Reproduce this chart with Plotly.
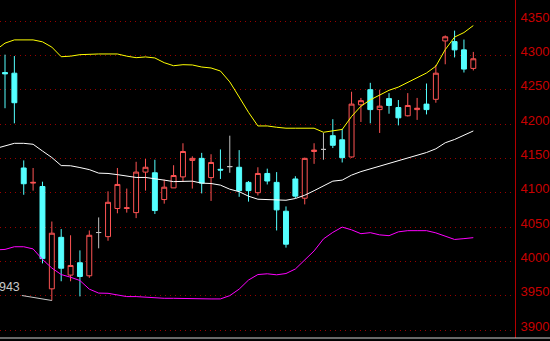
import plotly.graph_objects as go

# ---- data ----
idx = list(range(51))
open_ = [4275, 4274, 4136, 4114, 4109, 3960, 4035, 3980, 3998, 3979,
         4042, 4036, 4077, 4077, 4071, 4130, 4129, 4090, 4107, 4123,
         4147, 4150, 4122, 4134, 4138, 4137, 4115, 4100, 4128, 4115,
         4073, 4120, 4092, 4160, 4163, 4183, 4177, 4152, 4228, 4250,
         4221, 4237, 4224, 4212, 4221, 4229, 4236, 4321, 4320, 4308, 4281]
high = [4301, 4299, 4147, 4136, 4116, 4058, 4047, 4038, 4016, 4045,
        4064, 4102, 4136, 4106, 4145, 4149, 4148, 4119, 4140, 4172,
        4153, 4158, 4156, 4163, 4183, 4162, 4117, 4137, 4135, 4130,
        4080, 4124, 4151, 4172, 4187, 4207, 4193, 4247, 4238, 4260,
        4250, 4245, 4235, 4245, 4238, 4259, 4286, 4329, 4336, 4323, 4305]
low = [4223, 4201, 4097, 4103, 3997, 3943, 3971, 3971, 3949, 3976,
       4019, 4030, 4070, 4071, 4063, 4103, 4069, 4084, 4107, 4116,
       4106, 4099, 4088, 4120, 4129, 4094, 4087, 4096, 4112, 4045,
       4020, 4092, 4083, 4142, 4148, 4165, 4144, 4151, 4203, 4201,
       4187, 4215, 4198, 4211, 4206, 4214, 4231, 4287, 4297, 4275, 4278]
close = [4273, 4231, 4113, 4115, 4004, 4041, 3990, 3994, 3978, 4038,
         4042, 4086, 4112, 4078, 4130, 4137, 4074, 4108, 4125, 4160,
         4150, 4114, 4144, 4133, 4138, 4103, 4103, 4128, 4117, 4075,
         4025, 4095, 4150, 4162, 4163, 4169, 4151, 4229, 4234, 4221,
         4226, 4227, 4209, 4227, 4223, 4221, 4274, 4327, 4308, 4280, 4295]

band_x = list(range(-1, 51))
boll_up = [4307.5, 4317.8, 4322.5, 4322.5, 4322.5, 4319.7, 4312.0, 4298.0, 4298.8, 4301.0,
           4302.0, 4302.0, 4302.0, 4302.0, 4298.8, 4296.6, 4297.7, 4296.2, 4289.3, 4284.9,
           4286.4, 4286.0, 4283.0, 4281.6, 4277.2, 4261.3, 4239.3, 4217.0, 4197.2, 4197.2,
           4195.3, 4193.9, 4193.9, 4193.9, 4193.9, 4188.0, 4190.4, 4192.1, 4211.0, 4225.9,
           4235.2, 4242.3, 4249.1, 4253.8, 4260.4, 4266.5, 4274.3, 4284.2, 4308.3, 4326.6,
           4333.2, 4343.4]
boll_mid = [4164.3, 4168.0, 4171.9, 4171.9, 4170.5, 4160.7, 4151.2, 4139.5, 4139.2, 4136.6,
            4133.6, 4128.5, 4128.0, 4126.3, 4124.1, 4122.2, 4122.2, 4120.8, 4118.3, 4116.1,
            4116.8, 4116.8, 4113.9, 4113.4, 4111.0, 4105.1, 4101.5, 4094.9, 4090.5, 4090.1,
            4089.0, 4089.0, 4091.5, 4096.3, 4102.9, 4109.5, 4116.8, 4118.3, 4125.6, 4130.7,
            4134.6, 4139.2, 4142.4, 4146.8, 4151.2, 4155.1, 4158.5, 4163.9, 4172.7, 4177.5,
            4184.1, 4189.9]
boll_dn = [4016.7, 4017.4, 4021.3, 4021.3, 4018.1, 4002.8, 3990.3, 3980.8, 3976.9, 3972.1,
           3959.6, 3953.8, 3953.5, 3951.6, 3948.7, 3948.7, 3947.9, 3946.2, 3946.2, 3946.2,
           3945.8, 3945.3, 3945.3, 3945.3, 3945.3, 3950.1, 3959.6, 3972.8, 3980.8, 3981.9,
           3980.4, 3982.3, 3988.9, 4002.0, 4015.2, 4032.7, 4042.2, 4049.9, 4045.9, 4040.3,
           4041.8, 4038.6, 4037.4, 4043.0, 4044.7, 4044.7, 4044.7, 4041.5, 4036.4, 4031.9,
           4033.1, 4034.5]

tick_vals = [3900, 3950, 4000, 4050, 4100, 4150, 4200, 4250, 4300, 4350]
tick_text = [str(v) for v in tick_vals]

RED = "#FF5454"
CYAN = "#54FFFF"
GRAY = "#C0C0C0"

fig = go.Figure()


def subset(cond):
    sel = [i for i in idx if cond(open_[i], close[i])]
    return ([idx[i] for i in sel], [open_[i] for i in sel], [high[i] for i in sel],
            [low[i] for i in sel], [close[i] for i in sel])


for cond, inc_col, inc_fill, dec_col, dec_fill in [
    (lambda o, c: c != o, RED, "#000000", CYAN, CYAN),
    (lambda o, c: c == o, GRAY, GRAY, GRAY, GRAY),
]:
    xs, os_, hs, ls, cs = subset(cond)
    fig.add_trace(go.Candlestick(
        x=xs, open=os_, high=hs, low=ls, close=cs,
        increasing=dict(line=dict(color=inc_col, width=1), fillcolor=inc_fill),
        decreasing=dict(line=dict(color=dec_col, width=1), fillcolor=dec_fill),
        whiskerwidth=0, showlegend=False, hoverinfo="skip",
    ))

for ys, col in [(boll_up, "#FFFF00"), (boll_mid, "#FFFFFF"), (boll_dn, "#FF00FF")]:
    fig.add_trace(go.Scatter(x=band_x, y=ys, mode="lines",
                             line=dict(color=col, width=1), showlegend=False,
                             hoverinfo="skip"))

# lowest-price marker
i_low = min(idx, key=lambda i: low[i])
fig.add_annotation(x=i_low, y=low[i_low], text=str(low[i_low]), showarrow=True,
                   arrowhead=0, arrowwidth=1, arrowcolor="#C8C8C8",
                   ax=-30, ay=-5, xanchor="right", yanchor="bottom",
                   font=dict(family="Arial", size=12.5, color="#C8C8C8"))

# bottom separator line
fig.add_shape(type="line", xref="paper", yref="paper", x0=0, x1=1.1, y0=0, y1=0,
              line=dict(color="#D0D0D0", width=1))

fig.update_layout(
    width=550, height=341,
    margin=dict(l=0, r=35, t=0, b=3),
    paper_bgcolor="#000000", plot_bgcolor="#000000",
    boxgap=0.25,
    xaxis=dict(range=[-0.534, 54.45], showgrid=False, zeroline=False,
               showticklabels=False, showline=False, fixedrange=True,
               rangeslider=dict(visible=False)),
    yaxis=dict(range=[3888.4, 4380.6], side="right", tickmode="array",
               tickvals=tick_vals, ticktext=tick_text,
               showgrid=True, gridcolor="#990000", gridwidth=1, griddash="1px,4px",
               zeroline=False, showline=True, linecolor="#B40000", linewidth=1,
               ticks="", ticklabelshift=-4, ticklabelstandoff=2,
               tickfont=dict(family="Arial", size=13, color="#C80000")),
)

fig.write_html("out.html")
